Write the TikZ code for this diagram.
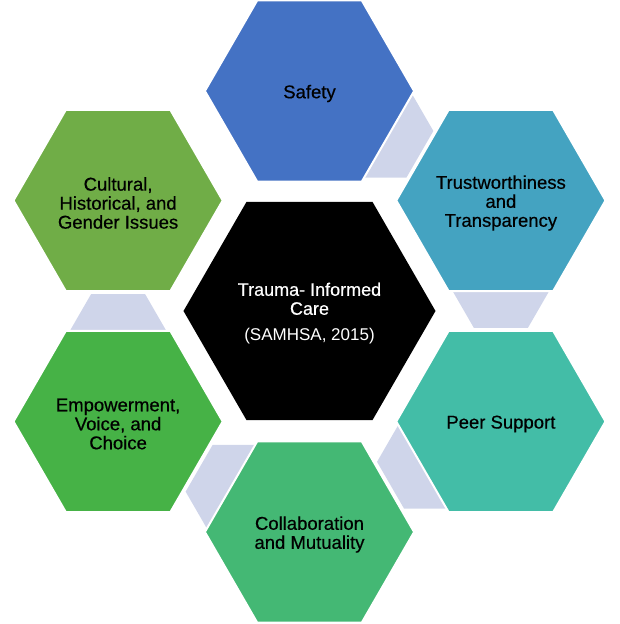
\documentclass[tikz,border=0pt]{standalone}
\usepackage{fontspec}
\setmainfont{Liberation Sans}
% a slightly heavier cut of the same face for the hexagon captions
\newfontfamily\captionface[BoldFont=Liberation Sans, BoldFeatures={FakeBold=0.5}]{Liberation Sans}
\usetikzlibrary{calc}

% Palette: a range from blue to green, a pale link colour and the core
\definecolor{cSafety}{HTML}{4472C4}
\definecolor{cTrust}{HTML}{44A3C1}
\definecolor{cPeer}{HTML}{43BDA7}
\definecolor{cCollab}{HTML}{44B874}
\definecolor{cEmpower}{HTML}{46B246}
\definecolor{cCulture}{HTML}{70AD47}
\definecolor{cLink}{HTML}{CFD5EA}

\tikzset{
  outerhex/.style={fill=#1, draw=white, line width=2pt, line join=miter},
  linkhex/.style={fill=cLink},
  corehex/.style={fill=black},
  hexlabel/.style={font=\captionface\bfseries\fontsize{18.5}{19}\selectfont,
                   align=center, text=black, inner sep=0pt, yshift=-2.5pt},
  corelabel/.style={font=\captionface\bfseries\fontsize{18}{19}\selectfont,
                    align=center, text=white, inner sep=0pt},
}

% flat-topped hexagon: #1 style, #2 centre, #3 circumradius
\newcommand\drawhex[3]{%
  \path[#1, shift={(#2)}] (0:#3) -- (60:#3) -- (120:#3) -- (180:#3)
    -- (240:#3) -- (300:#3) -- cycle;}

\begin{document}
\begin{tikzpicture}[x=1pt, y=1pt]
  \useasboundingbox (-309.5,-313) rectangle (309.5,311);

  % centres of the ring and the core
  \coordinate (core)    at (0,0);
  \coordinate (safety)  at (90:220);
  \coordinate (trust)   at (30:221);
  \coordinate (peer)    at (-30:221);
  \coordinate (collab)  at (-90:221);
  \coordinate (empower) at (210:221);
  \coordinate (culture) at (150:221);

  % pale link hexagons, tucked under each pair of neighbours
  \foreach \a/\b in {safety/trust, trust/peer, peer/collab,
                     collab/empower, empower/culture} {
    \coordinate (\a-\b) at ($(\a)!0.365!(\b)$);
    \drawhex{linkhex}{\a-\b}{54}
  }

  % ring of principles
  \drawhex{outerhex=cSafety}{safety}{104.6}
  \drawhex{outerhex=cTrust}{trust}{104.6}
  \drawhex{outerhex=cPeer}{peer}{104.6}
  \drawhex{outerhex=cCollab}{collab}{104.6}
  \drawhex{outerhex=cEmpower}{empower}{104.6}
  \drawhex{outerhex=cCulture}{culture}{104.6}

  % core
  \drawhex{corehex}{core}{126}

  % labels
  \node[hexlabel] (tSafety)  at (safety)  {Safety};
  \node[hexlabel] (tTrust)   at (trust)   {Trustworthiness\\and\\Transparency};
  \node[hexlabel] (tPeer)    at (peer)    {Peer Support};
  \node[hexlabel] (tCollab)  at (collab)  {Collaboration\\and Mutuality};
  \node[hexlabel] (tEmpower) at (empower) {Empowerment,\\Voice, and\\Choice};
  \node[hexlabel] (tCulture) at (culture) {Cultural,\\Historical, and\\Gender Issues};
  \node[corelabel] (tCore) at (0,-2.5)
    {Trauma- Informed\\Care\\[7pt]{\mdseries\fontsize{17}{19}\selectfont(SAMHSA, 2015)}};
\end{tikzpicture}
\end{document}
